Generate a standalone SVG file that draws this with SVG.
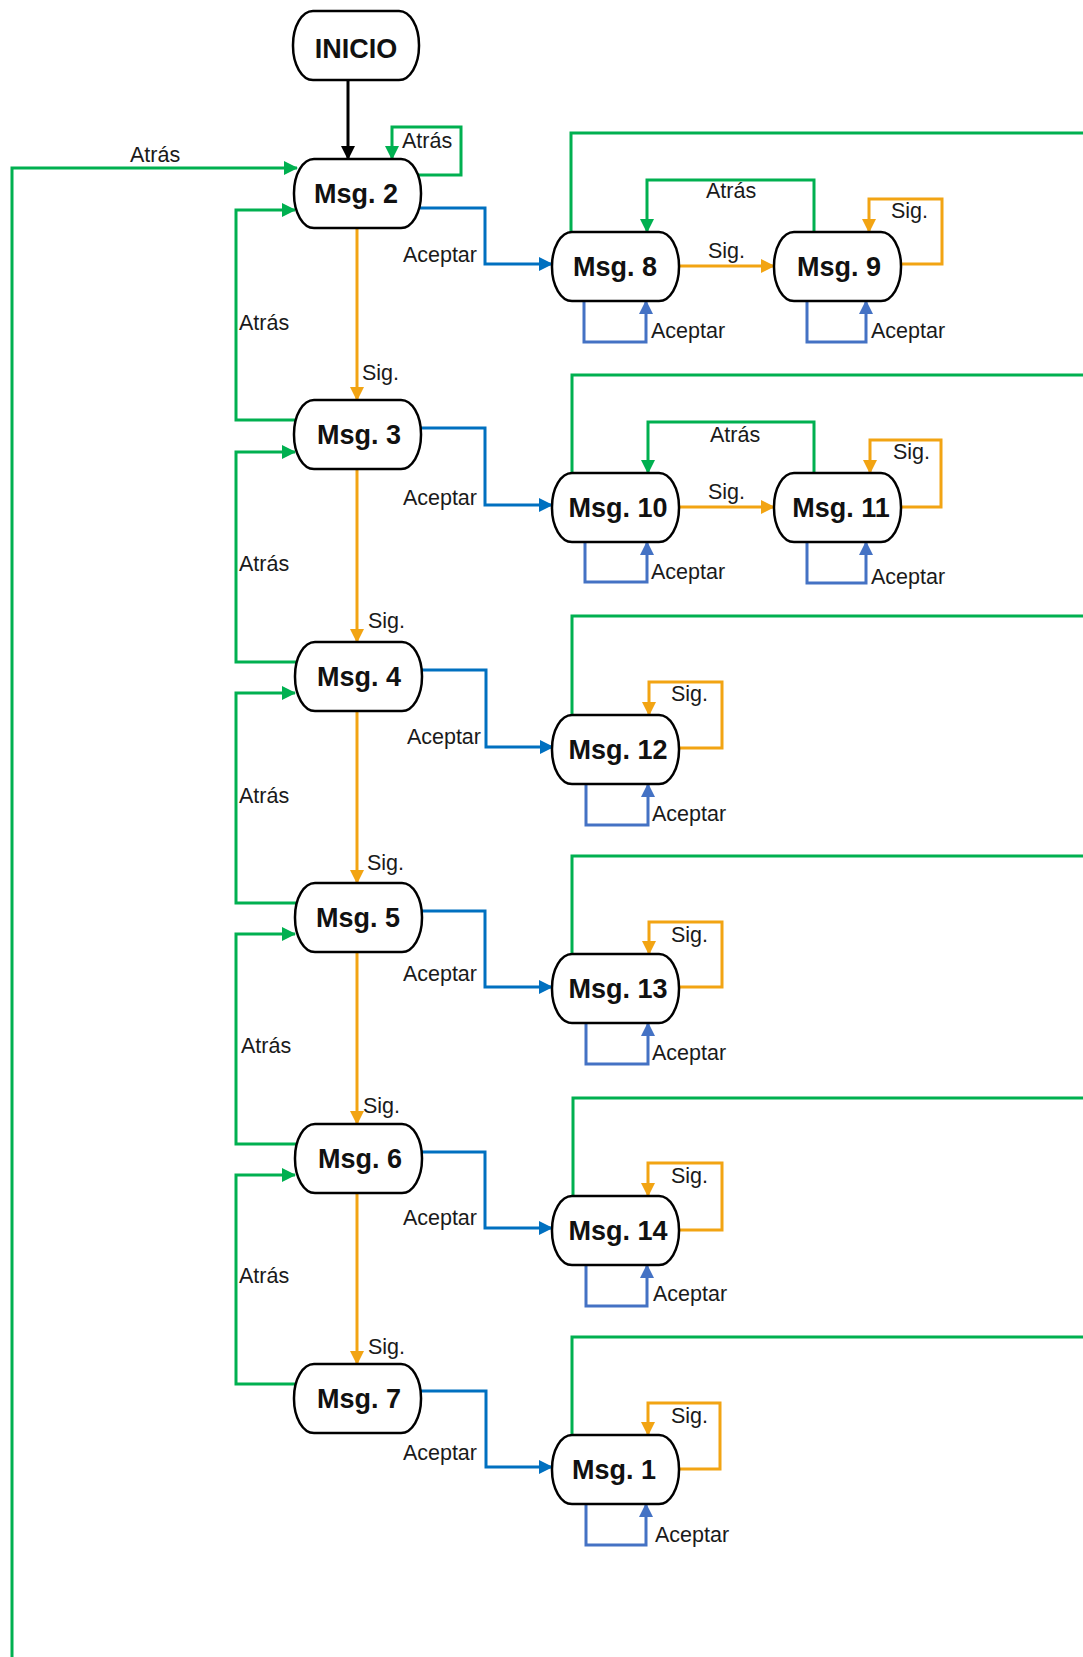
<svg xmlns="http://www.w3.org/2000/svg" width="1083" height="1657" viewBox="0 0 1083 1657">
<style>
.node rect{fill:#fff;stroke:#000;stroke-width:2.5}
.node text{font-family:"Liberation Sans",Arial,sans-serif;font-weight:bold;font-size:27px;text-anchor:middle;fill:#111}
.lbl{font-family:"Liberation Sans",Arial,sans-serif;font-size:21.5px;fill:#1a1a1a}
.end{text-anchor:end}
.c{fill:none;stroke-width:3;stroke-linejoin:miter}
.g{stroke:#00B050}
.o{stroke:#F2A413}
.b{stroke:#0070C0}
.lb{stroke:#4472C4}
.k{stroke:#000}
</style>
<defs>
<marker id="ag" markerWidth="14" markerHeight="14" refX="13" refY="7" orient="auto" markerUnits="userSpaceOnUse"><path d="M0,0 L14,7 L0,14 z" fill="#00B050"/></marker>
<marker id="ao" markerWidth="14" markerHeight="14" refX="13" refY="7" orient="auto" markerUnits="userSpaceOnUse"><path d="M0,0 L14,7 L0,14 z" fill="#F2A413"/></marker>
<marker id="ab" markerWidth="14" markerHeight="14" refX="13" refY="7" orient="auto" markerUnits="userSpaceOnUse"><path d="M0,0 L14,7 L0,14 z" fill="#0070C0"/></marker>
<marker id="alb" markerWidth="14" markerHeight="14" refX="13" refY="7" orient="auto" markerUnits="userSpaceOnUse"><path d="M0,0 L14,7 L0,14 z" fill="#4472C4"/></marker>
<marker id="ak" markerWidth="14" markerHeight="14" refX="13" refY="7" orient="auto" markerUnits="userSpaceOnUse"><path d="M0,0 L14,7 L0,14 z" fill="#000"/></marker>
</defs>
<rect width="1083" height="1657" fill="#fff"/>
<g id="connectors">
<path class="c k" d="M348,80 V159" marker-end="url(#ak)"/>
<path class="c g" d="M415,175 H461 V127 H392 V159" marker-end="url(#ag)"/>
<path class="c g" d="M12,1660 V168 H297" marker-end="url(#ag)"/>
<path class="c o" d="M357,228 V400" marker-end="url(#ao)"/>
<path class="c o" d="M357,469 V642" marker-end="url(#ao)"/>
<path class="c o" d="M357,711 V883" marker-end="url(#ao)"/>
<path class="c o" d="M357,952 V1124" marker-end="url(#ao)"/>
<path class="c o" d="M357,1193 V1364" marker-end="url(#ao)"/>
<path class="c g" d="M300,420 H236 V210 H295" marker-end="url(#ag)"/>
<path class="c g" d="M300,662 H236 V452 H295" marker-end="url(#ag)"/>
<path class="c g" d="M300,903 H236 V693 H295" marker-end="url(#ag)"/>
<path class="c g" d="M300,1144 H236 V934 H295" marker-end="url(#ag)"/>
<path class="c g" d="M300,1384 H236 V1175 H295" marker-end="url(#ag)"/>
<path class="c b" d="M417,208 H485 V264 H552" marker-end="url(#ab)"/>
<path class="c b" d="M417,428 H485 V505 H552" marker-end="url(#ab)"/>
<path class="c b" d="M417,670 H486 V747 H553" marker-end="url(#ab)"/>
<path class="c b" d="M417,911 H485 V987 H552" marker-end="url(#ab)"/>
<path class="c b" d="M417,1152 H485 V1228 H552" marker-end="url(#ab)"/>
<path class="c b" d="M417,1391 H486 V1467 H552" marker-end="url(#ab)"/>
<path class="c g" d="M571,235 V133 H1086"/>
<path class="c o" d="M677,266 H774" marker-end="url(#ao)"/>
<path class="c g" d="M814,235 V180 H647 V232" marker-end="url(#ag)"/>
<path class="c o" d="M896,264 H942 V199 H869 V232" marker-end="url(#ao)"/>
<path class="c lb" d="M584,298 V342 H646 V301" marker-end="url(#alb)"/>
<path class="c lb" d="M807,298 V342 H866 V301" marker-end="url(#alb)"/>
<path class="c g" d="M572,476 V375 H1086"/>
<path class="c o" d="M677,507 H774" marker-end="url(#ao)"/>
<path class="c g" d="M814,476 V422 H648 V473" marker-end="url(#ag)"/>
<path class="c o" d="M897,507 H941 V440 H870 V473" marker-end="url(#ao)"/>
<path class="c lb" d="M585,539 V582 H647 V542" marker-end="url(#alb)"/>
<path class="c lb" d="M807,539 V583 H866 V542" marker-end="url(#alb)"/>
<path class="c g" d="M572,718 V616 H1086"/>
<path class="c o" d="M676,748 H722 V682 H649 V715" marker-end="url(#ao)"/>
<path class="c lb" d="M586,780 V825 H648 V784" marker-end="url(#alb)"/>
<path class="c g" d="M572,957 V856 H1086"/>
<path class="c o" d="M676,987 H722 V922 H649 V954" marker-end="url(#ao)"/>
<path class="c lb" d="M586,1020 V1064 H648 V1023" marker-end="url(#alb)"/>
<path class="c g" d="M573,1199 V1098 H1086"/>
<path class="c o" d="M676,1230 H722 V1163 H648 V1196" marker-end="url(#ao)"/>
<path class="c lb" d="M586,1262 V1306 H647 V1265" marker-end="url(#alb)"/>
<path class="c g" d="M572,1438 V1337 H1086"/>
<path class="c o" d="M676,1469 H720 V1403 H648 V1435" marker-end="url(#ao)"/>
<path class="c lb" d="M586,1501 V1545 H646 V1504" marker-end="url(#alb)"/>
</g>
<g id="labels">
<text class="lbl" x="130" y="162">Atrás</text>
<text class="lbl" x="402" y="148">Atrás</text>
<text class="lbl" x="362" y="380">Sig.</text>
<text class="lbl" x="368" y="628">Sig.</text>
<text class="lbl" x="367" y="870">Sig.</text>
<text class="lbl" x="363" y="1113">Sig.</text>
<text class="lbl" x="368" y="1354">Sig.</text>
<text class="lbl" x="239" y="330">Atrás</text>
<text class="lbl" x="239" y="571">Atrás</text>
<text class="lbl" x="239" y="803">Atrás</text>
<text class="lbl" x="241" y="1053">Atrás</text>
<text class="lbl" x="239" y="1283">Atrás</text>
<text class="lbl end" x="477" y="262">Aceptar</text>
<text class="lbl end" x="477" y="505">Aceptar</text>
<text class="lbl end" x="481" y="744">Aceptar</text>
<text class="lbl end" x="477" y="981">Aceptar</text>
<text class="lbl end" x="477" y="1225">Aceptar</text>
<text class="lbl end" x="477" y="1460">Aceptar</text>
<text class="lbl" x="708" y="258">Sig.</text>
<text class="lbl" x="706" y="198">Atrás</text>
<text class="lbl" x="891" y="218">Sig.</text>
<text class="lbl" x="651" y="338">Aceptar</text>
<text class="lbl" x="871" y="338">Aceptar</text>
<text class="lbl" x="708" y="499">Sig.</text>
<text class="lbl" x="710" y="442">Atrás</text>
<text class="lbl" x="893" y="459">Sig.</text>
<text class="lbl" x="651" y="579">Aceptar</text>
<text class="lbl" x="871" y="584">Aceptar</text>
<text class="lbl" x="671" y="701">Sig.</text>
<text class="lbl" x="652" y="821">Aceptar</text>
<text class="lbl" x="671" y="942">Sig.</text>
<text class="lbl" x="652" y="1060">Aceptar</text>
<text class="lbl" x="671" y="1183">Sig.</text>
<text class="lbl" x="653" y="1301">Aceptar</text>
<text class="lbl" x="671" y="1423">Sig.</text>
<text class="lbl" x="655" y="1542">Aceptar</text>
</g>
<g id="inicio" class="node"><rect x="293" y="11" width="126" height="69" rx="20" ry="34"/><text x="356" y="58">INICIO</text></g>
<g id="msg2" class="node"><rect x="294" y="159" width="127" height="69" rx="20" ry="34"/><text x="356" y="203">Msg. 2</text></g>
<g id="msg3" class="node"><rect x="294" y="400" width="127" height="69" rx="20" ry="34"/><text x="359" y="444">Msg. 3</text></g>
<g id="msg4" class="node"><rect x="295" y="642" width="127" height="69" rx="20" ry="34"/><text x="359" y="686">Msg. 4</text></g>
<g id="msg5" class="node"><rect x="295" y="883" width="127" height="69" rx="20" ry="34"/><text x="358" y="927">Msg. 5</text></g>
<g id="msg6" class="node"><rect x="295" y="1124" width="127" height="69" rx="20" ry="34"/><text x="360" y="1168">Msg. 6</text></g>
<g id="msg7" class="node"><rect x="294" y="1364" width="127" height="69" rx="20" ry="34"/><text x="359" y="1408">Msg. 7</text></g>
<g id="msg8" class="node"><rect x="552" y="232" width="127" height="69" rx="20" ry="34"/><text x="615" y="276">Msg. 8</text></g>
<g id="msg9" class="node"><rect x="774" y="232" width="127" height="69" rx="20" ry="34"/><text x="839" y="276">Msg. 9</text></g>
<g id="msg10" class="node"><rect x="552" y="473" width="127" height="69" rx="20" ry="34"/><text x="618" y="517">Msg. 10</text></g>
<g id="msg11" class="node"><rect x="774" y="473" width="127" height="69" rx="20" ry="34"/><text x="841" y="517">Msg. 11</text></g>
<g id="msg12" class="node"><rect x="552" y="715" width="127" height="69" rx="20" ry="34"/><text x="618" y="759">Msg. 12</text></g>
<g id="msg13" class="node"><rect x="552" y="954" width="127" height="69" rx="20" ry="34"/><text x="618" y="998">Msg. 13</text></g>
<g id="msg14" class="node"><rect x="552" y="1196" width="127" height="69" rx="20" ry="34"/><text x="618" y="1240">Msg. 14</text></g>
<g id="msg1" class="node"><rect x="552" y="1435" width="127" height="69" rx="20" ry="34"/><text x="614" y="1479">Msg. 1</text></g>
</svg>
